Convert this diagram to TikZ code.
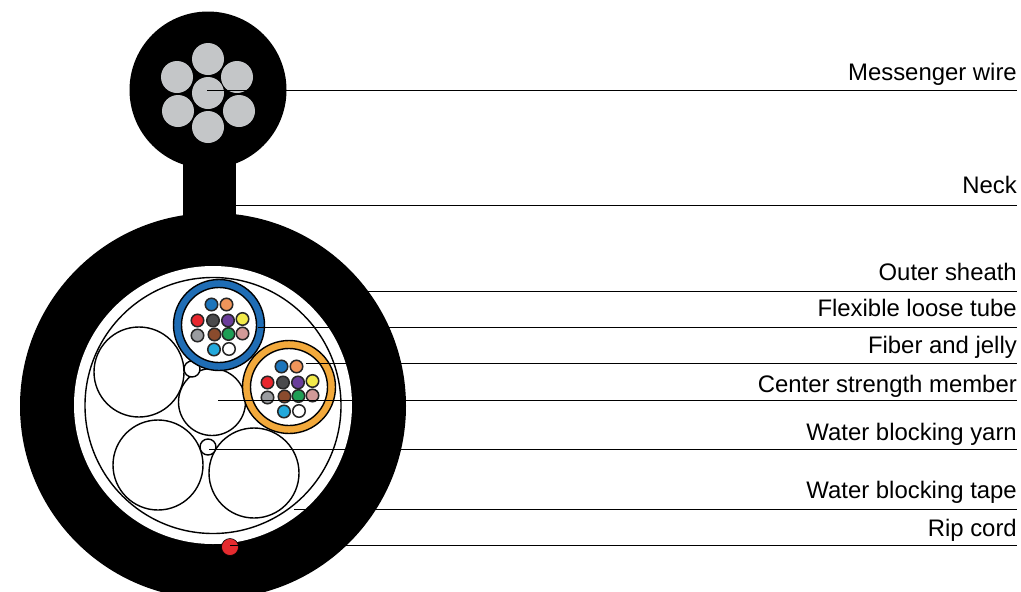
\documentclass[tikz,border=0pt]{standalone}
\usepackage{fontspec}
\setmainfont{Liberation Sans}
\definecolor{wiregray}{HTML}{C4C6C8}
\definecolor{tubeblue}{HTML}{1F6DB5}
\definecolor{tubeyellow}{HTML}{F2A93B}
\definecolor{fblue}{HTML}{1C75BC}
\definecolor{forange}{HTML}{F0955A}
\definecolor{fred}{HTML}{E8262D}
\definecolor{fdark}{HTML}{4A4A4C}
\definecolor{fpurple}{HTML}{6A3D9A}
\definecolor{fyellow}{HTML}{F2EA4A}
\definecolor{fgray}{HTML}{9A9CA0}
\definecolor{fbrown}{HTML}{8A4B2D}
\definecolor{fgreen}{HTML}{1E9E55}
\definecolor{fpink}{HTML}{D29A98}
\definecolor{fcyan}{HTML}{22A9DC}
\definecolor{ripred}{HTML}{E52B2F}
\tikzset{x=1pt,y=-1pt,
  wire/.style={circle,fill=wiregray,draw=none,minimum size=32pt,inner sep=0pt},
  unit/.style={circle,fill=white,draw=black,line width=1.4pt,minimum size=90pt,inner sep=0pt},
  lab/.style={anchor=base east,inner sep=0pt,font=\fontsize{23.9}{28}\selectfont,text=black},
  leader/.style={draw=black,line width=0.9pt},
  fib/.style={circle,draw=black!85,line width=1.5pt,minimum size=12.5pt,inner sep=0pt,fill=#1}}
\newcommand{\fibers}[2]{%
  \begin{scope}[shift={(#1,#2)}]
    \foreach \a/\b/\c in {0/0/fblue,15/0/forange,-14/16/fred,1.5/16/fdark,16.5/16/fpurple,31/14.5/fyellow,-14/31/fgray,3/30/fbrown,17/29.5/fgreen,31/29/fpink,2.5/45/fcyan,17.5/44.5/white}
      \node[fib=\c] at (\a,\b) {};
  \end{scope}}
\begin{document}
\begin{tikzpicture}
\useasboundingbox (0,0) rectangle (1021,592);
\begin{scope}
\clip (0,0) rectangle (1021,592);
\fill[black] (213,406) circle[radius=193];
\fill[black] (183,150) rectangle (236,240);
\fill[black] (208,90) circle[radius=78.5];
\fill[white] (213,405) circle[radius=139];
\draw[black,line width=1.4pt] (213,405.5) circle[radius=128];
\end{scope}
\node[wire] (w0) at (208,93) {};
\node[wire] at (208,59) {};
\node[wire] at (237,77) {};
\node[wire] at (177,77) {};
\node[wire] at (178,111) {};
\node[wire] at (239,111) {};
\node[wire] at (208,127) {};
\node[unit] (ul) at (139,372) {};
\node[unit] (ll) at (158,465) {};
\node[unit] (lr) at (254,473) {};
\node[unit,minimum size=67pt] (csm) at (212,402) {};
\node[unit,minimum size=16pt] at (192,369) {};
\node[unit,minimum size=16pt] (wby) at (208,447) {};
\node[circle,draw=black,line width=1.4pt,fill=tubeblue,minimum size=91pt,inner sep=0pt] (bt) at (219,325) {};
\node[circle,draw=black,line width=1.4pt,fill=white,minimum size=75pt,inner sep=0pt] at (219,325) {};
\fibers{211.5}{304.5}
\node[circle,draw=black,line width=1.4pt,fill=tubeyellow,minimum size=93pt,inner sep=0pt] (yt) at (289,387) {};
\node[circle,draw=black,line width=1.4pt,fill=white,minimum size=77pt,inner sep=0pt] at (289,387) {};
\fibers{281.5}{366.5}
\node[circle,fill=ripred,draw=black,line width=0.6pt,minimum size=17pt,inner sep=0pt] (rip) at (230,547) {};
\node[lab] (l1) at (1017,80.5) {Messenger wire};
\node[lab] (l2) at (1017,193.5) {Neck};
\node[lab] (l3) at (1017,280.5) {Outer sheath};
\node[lab] (l4) at (1017,316.5) {Flexible loose tube};
\node[lab] (l5) at (1017,353) {Fiber and jelly};
\node[lab] (l6) at (1017,392.5) {Center strength member};
\node[lab] (l7) at (1017,440) {Water blocking yarn};
\node[lab] (l8) at (1017,498) {Water blocking tape};
\node[lab] (l9) at (1017,536) {Rip cord};
\coordinate (s1) at (207,90.5);
\coordinate (s2) at (236,205);
\coordinate (s3) at (366,291);
\coordinate (s4) at (258,327);
\coordinate (s5) at (306,363.5);
\coordinate (s6) at (218,400);
\coordinate (s7) at (209,449);
\coordinate (s8) at (294,509);
\coordinate (s9) at (230,545.5);
\foreach \i in {1,...,9} \draw[leader] (s\i) -- (s\i -| l\i.east);
\end{tikzpicture}
\end{document}
